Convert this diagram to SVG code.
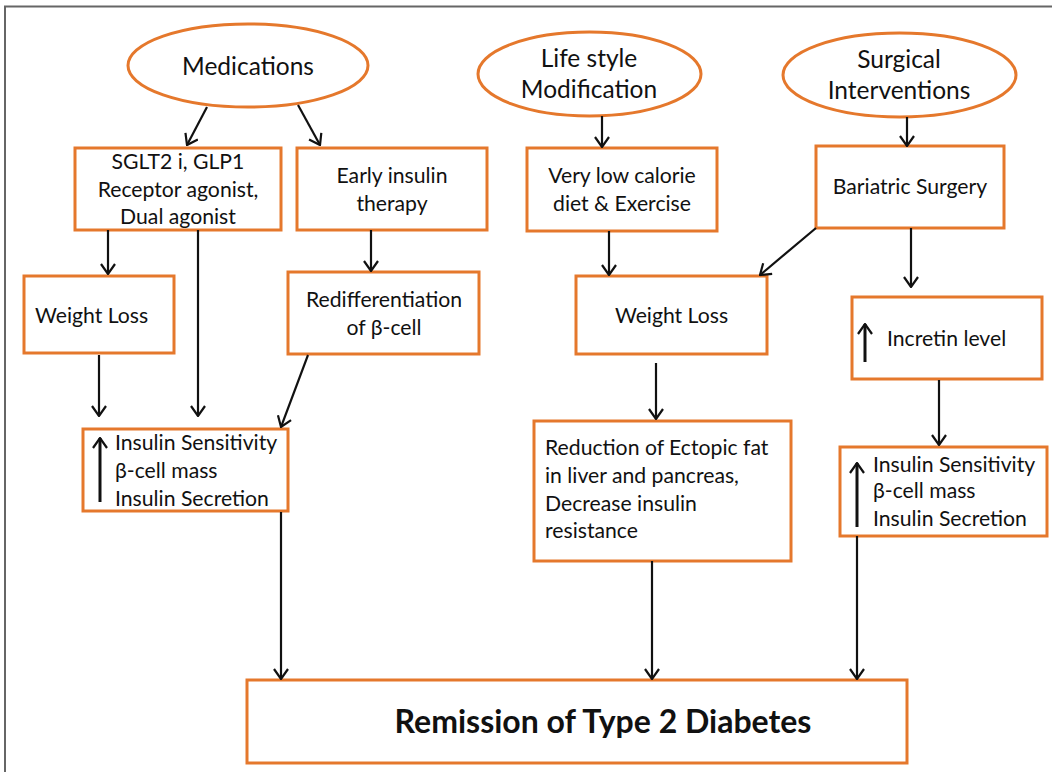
<svg xmlns="http://www.w3.org/2000/svg" width="1052" height="772" viewBox="0 0 1052 772">
<defs>
<style>
.n{fill:#fff;stroke:#E5782C;stroke-width:3}
.t{font-family:Lato,"Liberation Sans",sans-serif;font-size:21.2px;fill:#111}
.c{text-anchor:middle}
.e{font-size:24.5px}
.b{font-weight:bold;font-size:32px}
.a{fill:none;stroke:#111;stroke-width:2.2;marker-end:url(#ah)}
.u{fill:none;stroke:#111;stroke-width:3;marker-end:url(#ah)}
</style>
<marker id="ah" viewBox="0 0 12 16" refX="11" refY="8" markerWidth="12" markerHeight="16" markerUnits="userSpaceOnUse" orient="auto">
<path d="M1,1 L11,8 L1,15" fill="none" stroke="#111" stroke-width="2.2"/>
</marker>
</defs>
<rect x="0" y="0" width="1052" height="772" fill="#fff"/>
<path d="M5,800 L5,6.5 L1100,6.5" fill="none" stroke="#666" stroke-width="2"/>

<g id="medications"><ellipse class="n" cx="248" cy="65.5" rx="120" ry="41.5"/><text class="t e c" x="248" y="75">Medications</text></g>
<g id="lifestyle"><ellipse class="n" cx="589.5" cy="74" rx="111.5" ry="42"/><text class="t e c" x="589" y="67">Life style</text><text class="t e c" x="589" y="98">Modification</text></g>
<g id="surgical"><ellipse class="n" cx="899.5" cy="75" rx="116.5" ry="42"/><text class="t e c" x="899" y="68">Surgical</text><text class="t e c" x="899" y="99">Interventions</text></g>

<g id="sglt2"><rect class="n" x="75" y="148" width="206" height="82"/><text class="t c" x="178" y="169">SGLT2 i, GLP1</text><text class="t c" x="178" y="197">Receptor  agonist,</text><text class="t c" x="178" y="224">Dual agonist</text></g>
<g id="early-insulin"><rect class="n" x="297" y="148" width="190" height="82"/><text class="t c" x="392" y="183">Early insulin</text><text class="t c" x="392" y="211">therapy</text></g>
<g id="vlc"><rect class="n" x="527" y="148" width="190" height="83"/><text class="t c" x="622" y="183">Very low calorie</text><text class="t c" x="622" y="211">diet &amp; Exercise</text></g>
<g id="bariatric"><rect class="n" x="816" y="146" width="188" height="82"/><text class="t c" x="910" y="194">Bariatric Surgery</text></g>

<g id="weight-loss-1"><rect class="n" x="24" y="276" width="150" height="77"/><text class="t" x="35" y="323">Weight Loss</text></g>
<g id="redifferentiation"><rect class="n" x="288" y="272" width="191" height="82"/><text class="t c" x="384" y="307">Redifferentiation</text><text class="t c" x="384" y="335">of β-cell</text></g>
<g id="weight-loss-2"><rect class="n" x="576" y="276" width="191" height="78"/><text class="t c" x="671.5" y="323">Weight Loss</text></g>
<g id="incretin"><rect class="n" x="852" y="297" width="190" height="82"/><line class="u" x1="865" y1="362" x2="865" y2="324"/><text class="t" x="887" y="346">Incretin level</text></g>

<g id="insulin-1"><rect class="n" x="83" y="429" width="205" height="82"/><line class="u" x1="100" y1="502" x2="100" y2="438"/><text class="t" x="115" y="450">Insulin Sensitivity</text><text class="t" x="115" y="478">β-cell mass</text><text class="t" x="115" y="506">Insulin Secretion</text></g>
<g id="reduction"><rect class="n" x="534" y="421" width="257" height="140"/><text class="t" x="545" y="455">Reduction  of Ectopic fat</text><text class="t" x="545" y="483">in liver and pancreas,</text><text class="t" x="545" y="511">Decrease insulin</text><text class="t" x="545" y="538">resistance</text></g>
<g id="insulin-2"><rect class="n" x="840" y="447" width="207" height="89"/><line class="u" x1="857" y1="527" x2="857" y2="463"/><text class="t" x="873" y="472">Insulin Sensitivity</text><text class="t" x="873" y="498">β-cell mass</text><text class="t" x="873" y="526">Insulin Secretion</text></g>

<g id="remission"><rect class="n" x="247" y="680" width="660" height="83"/><text class="t b c" x="603" y="733">Remission of Type 2 Diabetes</text></g>

<g id="connectors">
<line class="a" x1="207" y1="107" x2="187" y2="145"/>
<line class="a" x1="298" y1="105" x2="320" y2="145"/>
<line class="a" x1="602" y1="116" x2="602" y2="147"/>
<line class="a" x1="907" y1="117" x2="907" y2="146"/>
<line class="a" x1="108" y1="230" x2="108" y2="274"/>
<line class="a" x1="198" y1="230" x2="198" y2="416"/>
<line class="a" x1="371" y1="230" x2="371" y2="271"/>
<line class="a" x1="609" y1="231" x2="609" y2="275"/>
<line class="a" x1="816" y1="228" x2="760" y2="275"/>
<line class="a" x1="911" y1="228" x2="911" y2="287"/>
<line class="a" x1="99" y1="355" x2="99" y2="416"/>
<line class="a" x1="308" y1="355" x2="281" y2="427"/>
<line class="a" x1="656" y1="363" x2="656" y2="419"/>
<line class="a" x1="939" y1="380" x2="939" y2="445"/>
<line class="a" x1="281" y1="512" x2="281" y2="679"/>
<line class="a" x1="652" y1="561" x2="652" y2="679"/>
<line class="a" x1="857" y1="536" x2="857" y2="679"/>
</g>
</svg>
